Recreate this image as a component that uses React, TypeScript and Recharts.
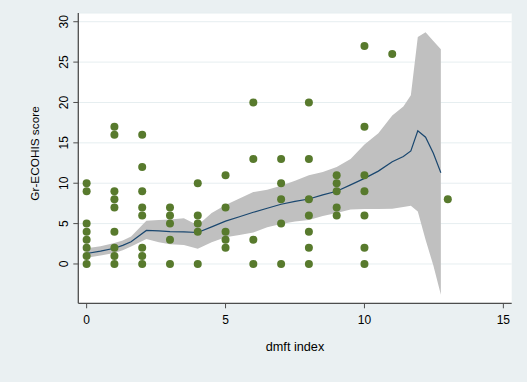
import React from "react";
import {
  ComposedChart,
  Area,
  Line,
  Scatter,
  XAxis,
  YAxis,
  CartesianGrid,
} from "recharts";

// Smoothed fit grid (dmft index)
const gridX = [0, 0.5, 1, 1.3, 1.6, 2.15, 2.6, 3, 3.5, 4, 4.5, 5, 5.5, 6, 6.5, 7, 7.5, 8, 8.5, 9, 9.5, 10, 10.5, 11, 11.4, 11.67, 11.92, 12.2, 12.48, 12.75];
// Fitted Gr-ECOHIS score
const fitY = [1.3, 1.6, 1.95, 2.3, 2.75, 4.15, 4.1, 4.0, 3.97, 3.9, 4.6, 5.3, 5.85, 6.4, 6.9, 7.4, 7.75, 8.05, 8.55, 9.0, 9.8, 10.6, 11.5, 12.65, 13.3, 14.0, 16.5, 15.7, 13.7, 11.3];
// Confidence interval bounds
const ciLow = [0.78, 1.05, 1.35, 1.7, 2.15, 3.1, 2.7, 2.45, 2.35, 1.9, 2.7, 3.3, 3.6, 3.9, 4.55, 4.95, 5.25, 5.45, 5.95, 6.3, 6.75, 6.8, 6.8, 6.85, 7.05, 7.2, 6.5, 3.0, -0.2, -3.8];
const ciHigh = [1.94, 2.2, 2.6, 2.9, 3.4, 5.35, 5.45, 5.5, 5.65, 4.8, 6.3, 7.3, 8.1, 8.9, 9.2, 9.7, 10.3, 11.0, 11.4, 12.0, 13.0, 14.8, 16.2, 18.4, 19.5, 20.9, 28.1, 28.7, 27.6, 26.6];

// Observations
const obsX = [
  0, 0, 0, 0, 0, 0, 0, 0,
  1, 1, 1, 1, 1, 1, 1, 1, 1,
  2, 2, 2, 2, 2, 2, 2, 2,
  3, 3, 3, 3, 3,
  4, 4, 4, 4, 4,
  5, 5, 5, 5, 5,
  6, 6, 6, 6,
  7, 7, 7, 7, 7,
  8, 8, 8, 8, 8, 8, 8,
  9, 9, 9, 9, 9,
  10, 10, 10, 10, 10, 10, 10,
  11,
  13,
];
const obsY = [
  10, 9, 5, 4, 3, 2, 1, 0,
  17, 16, 9, 8, 7, 4, 2, 1, 0,
  16, 12, 9, 7, 6, 2, 1, 0,
  7, 6, 5, 3, 0,
  10, 6, 5, 4, 0,
  11, 7, 4, 3, 2,
  20, 13, 3, 0,
  13, 10, 8, 5, 0,
  20, 13, 8, 6, 4, 2, 0,
  11, 10, 9, 7, 6,
  27, 17, 11, 9, 6, 2, 0,
  26,
  8,
];

const xTicks = [0, 5, 10, 15];
const yTicks = [0, 5, 10, 15, 20, 25, 30];

const fitData = gridX.map((x, i) => ({ x, fit: fitY[i], band: [ciLow[i], ciHigh[i]] }));
const obsData = obsX.map((x, i) => ({ x, y: obsY[i] }));

const FONT = "'Liberation Sans', Arial, Helvetica, sans-serif";
const AXIS = "#4d4d4d";

const YTick = (props: any) => {
  const { y, payload } = props;
  return (
    <g transform={`translate(64, ${y}) rotate(-90)`}>
      <text textAnchor="middle" dy="0.35em" fontSize={12} fontFamily={FONT} fill="#000">
        {payload.value}
      </text>
    </g>
  );
};

const XTick = (props: any) => {
  const { x, payload } = props;
  return (
    <text x={x} y={324.3} textAnchor="middle" fontSize={12} fontFamily={FONT} fill="#000">
      {payload.value}
    </text>
  );
};

const Dot = (props: any) => {
  const { cx, cy } = props;
  if (cx == null || cy == null) return null;
  return <circle cx={cx} cy={cy} r={4} fill="#587A2D" />;
};

export default function App() {
  return (
    <div
      style={{
        position: "absolute",
        left: 0,
        top: 0,
        width: 528,
        height: 384,
        background: "#ffffff",
      }}
    >
      <div style={{ position: "absolute", left: 0, top: 0, width: 527, height: 382, background: "#EAF0F2" }} />
      <div style={{ position: "absolute", left: 0, top: 0 }}>
        <ComposedChart
          width={528}
          height={384}
          data={fitData}
          margin={{ top: 13, right: 16.3, bottom: 0, left: 0 }}
        >
          <CartesianGrid
            vertical={false}
            horizontal={true}
            fill="#ffffff"
            stroke="#E6EEF0"
            strokeWidth={1}
          />
          <XAxis
            type="number"
            dataKey="x"
            domain={[-0.3, 15.3]}
            allowDataOverflow
            ticks={xTicks}
            height={80.7}
            tick={<XTick />}
            tickSize={5}
            tickLine={{ stroke: AXIS }}
            axisLine={{ stroke: AXIS, strokeWidth: 1.3 }}
            interval={0}
            label={{
              content: (p: any) => {
                const vb = p.viewBox || { x: 78.3, width: 433.4 };
                return (
                  <text
                    x={vb.x + vb.width / 2}
                    y={351.2}
                    textAnchor="middle"
                    fontSize={12.7}
                    fontFamily={FONT}
                    fill="#000"
                  >
                    dmft index
                  </text>
                );
              },
            }}
          />
          <YAxis
            type="number"
            domain={[-4.87, 31.08]}
            allowDataOverflow
            ticks={yTicks}
            width={78.3}
            tick={<YTick />}
            tickSize={5}
            tickLine={{ stroke: AXIS }}
            axisLine={{ stroke: AXIS, strokeWidth: 1.3 }}
            interval={0}
            label={{
              content: () => (
                <g transform="translate(35, 153.5) rotate(-90)">
                  <text textAnchor="middle" dy="0.35em" fontSize={11.8} fontFamily={FONT} fill="#000">
                    Gr-ECOHIS score
                  </text>
                </g>
              ),
            }}
          />
          <Area
            type="linear"
            dataKey="band"
            stroke="none"
            fill="#C0C0C0"
            fillOpacity={1}
            isAnimationActive={false}
            activeDot={false}
          />
          <Line
            type="linear"
            dataKey="fit"
            stroke="#1A476F"
            strokeWidth={1.2}
            dot={false}
            activeDot={false}
            isAnimationActive={false}
          />
          <Scatter data={obsData} dataKey="y" shape={<Dot />} isAnimationActive={false} />
        </ComposedChart>
      </div>
    </div>
  );
}
